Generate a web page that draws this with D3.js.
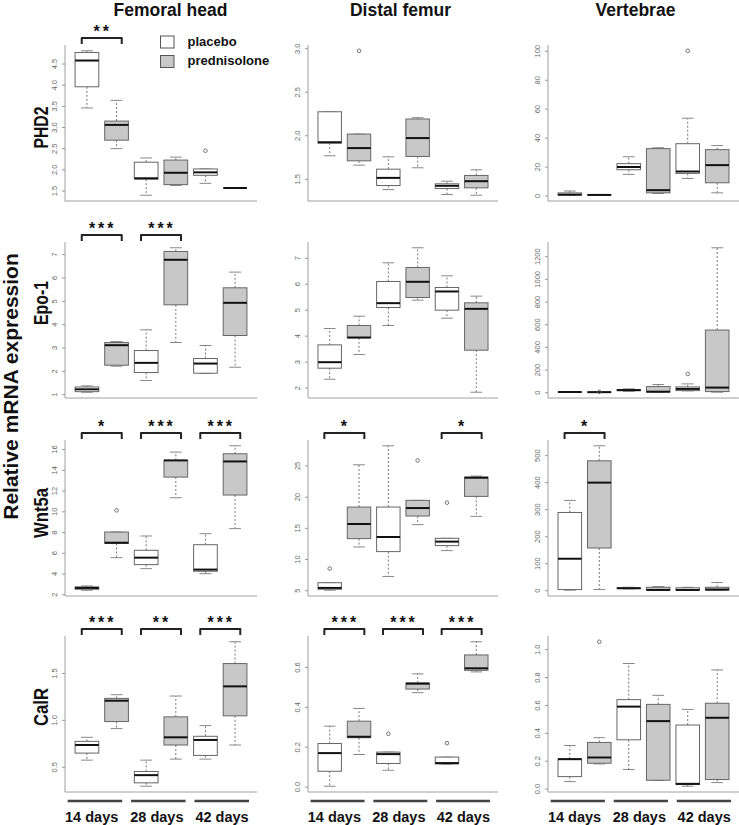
<!DOCTYPE html>
<html>
<head>
<meta charset="utf-8">
<script src="https://cdn.jsdelivr.net/npm/d3@7/dist/d3.min.js"></script>
<style>
  html, body { margin: 0; padding: 0; background: #fff; }
  svg { display: block; font-family: "Liberation Sans", Arial, sans-serif; }
</style>
</head>
<body>
<svg id="chart" width="739" height="825"></svg>
<script>
// ---------------- DATA ----------------
const tissues = ["Femoral head", "Distal femur", "Vertebrae"];
const genes = ["PHD2", "Epo-1", "Wnt5a", "CalR"];
const groups = ["14 days", "28 days", "42 days"];
const treatments = ["placebo", "prednisolone"];

// each box: [lower whisker, Q1, median, Q3, upper whisker]; order: 14d plac, 14d pred, 28d plac, 28d pred, 42d plac, 42d pred
const PHD2_FH = [[3.45,3.95,4.57,4.76,4.80],[2.49,2.69,3.05,3.14,3.63],[1.39,1.77,1.79,2.17,2.27],[1.62,1.64,1.92,2.22,2.29],[1.67,1.86,1.93,2.01,2.01],[1.56,1.56,1.56,1.56,1.56]];
const PHD2_DF = [[1.765,1.91,1.92,2.27,2.27],[1.657,1.707,1.853,2.014,2.014],[1.377,1.423,1.511,1.611,1.753],[1.627,1.757,1.968,2.187,2.202],[1.32,1.389,1.42,1.443,1.473],[1.312,1.397,1.473,1.539,1.604]];
const PHD2_V  = [[0.2,0.3,0.6,1.8,3.1],[0.2,0.3,0.4,0.5,0.6],[14.6,17.8,19.7,22,26.8],[1.4,1.85,3.7,32.4,33],[11.8,15.3,16.6,35.8,53.4],[1.85,8.8,21,31.7,34.5]];
const EPO_FH  = [[1.086,1.11,1.21,1.31,1.357],[2.2,2.243,3.1,3.214,3.257],[1.586,1.929,2.343,2.871,3.757],[3.214,4.829,6.757,7.114,7.271],[1.886,1.9,2.314,2.529,3.086],[2.157,3.514,4.914,5.557,6.229]];
const EPO_DF  = [[2.321,2.746,2.977,3.645,4.275],[3.272,3.915,3.928,4.391,4.751],[4.391,5.085,5.252,6.087,6.807],[5.368,5.47,6.075,6.627,7.386],[4.674,4.982,5.702,5.856,6.306],[1.82,3.44,5.033,5.265,5.522]];
const EPO_V   = [[0.5,1,2,3,5],[0.3,0.6,1,1.5,2],[8,14,19,24,30],[1,2,5,50,68],[11.8,14.7,29.5,47,73.7],[0.5,5.9,41.3,548.7,1274]];
const WNT_FH  = [[2.39,2.48,2.61,2.71,2.80],[5.53,6.9,6.97,8.0,8.0],[4.47,4.86,5.53,6.24,7.62],[11.31,13.30,14.91,14.91,15.71],[3.99,4.22,4.38,6.78,7.84],[8.33,11.57,14.81,15.55,16.32]];
const WNT_DF  = [[5.0,5.16,5.37,6.2,6.2],[11.93,13.27,15.61,18.33,25.1],[7.19,11.19,13.53,18.33,28.15],[15.51,16.89,18.17,19.4,19.4],[11.35,12.15,12.79,13.32,13.32],[16.84,20.04,23.03,23.13,23.29]];
const WNT_V   = [[0,2.5,116.6,287.8,332.5],[2.5,156.3,398.3,479,534.7],[5,6.2,7.4,8.7,11],[0.3,0.5,1,11,13.6],[0.2,0.5,1,9,11],[0.5,0.5,2.5,11,28.5]];
const CALR_FH = [[0.571,0.646,0.732,0.771,0.814],[0.907,0.982,1.204,1.229,1.268],[0.293,0.329,0.411,0.45,0.571],[0.582,0.732,0.814,1.032,1.254],[0.582,0.621,0.786,0.825,0.939],[0.732,1.043,1.357,1.6,1.832]];
const CALR_DF = [[0.002,0.077,0.168,0.216,0.303],[0.161,0.245,0.25,0.328,0.392],[0.082,0.116,0.163,0.173,0.173],[0.471,0.489,0.516,0.52,0.565],[0.113,0.114,0.118,0.148,0.148],[0.575,0.583,0.593,0.66,0.726]];
const CALR_V  = [[0.05,0.086,0.211,0.213,0.309],[0.177,0.182,0.223,0.331,0.365],[0.137,0.35,0.588,0.638,0.897],[0.058,0.06,0.484,0.604,0.669],[0.017,0.029,0.034,0.456,0.568],[0.043,0.065,0.508,0.612,0.851]];

// outliers: [box index, value]
const OUT_PHD2_FH = [[4,2.44]];
const OUT_PHD2_DF = [[1,2.97]];
const OUT_PHD2_V  = [[4,100]];
const OUT_EPO_V   = [[1,3],[4,162]];
const OUT_WNT_FH  = [[1,10.09]];
const OUT_WNT_DF  = [[0,8.47],[3,25.8],[4,19.03]];
const OUT_CALR_DF = [[2,0.265],[4,0.218]];
const OUT_CALR_V  = [[1,1.053]];

// y tick labels
const TICK_PHD2_FH = ["1.5","2.0","2.5","3.0","3.5","4.0","4.5"];
const TICK_PHD2_DF = ["1.5","2.0","2.5","3.0"];
const TICK_PHD2_V  = ["0","20","40","60","80","100"];
const TICK_EPO_FH  = ["1","2","3","4","5","6","7"];
const TICK_EPO_DF  = ["2","3","4","5","6","7"];
const TICK_EPO_V   = ["0","200","400","600","800","1000","1200"];
const TICK_WNT_FH  = ["2","4","6","8","10","12","14","16"];
const TICK_WNT_DF  = ["5","10","15","20","25"];
const TICK_WNT_V   = ["0","100","200","300","400","500"];
const TICK_CALR_FH = ["0.5","1.0","1.5"];
const TICK_CALR_DF = ["0.0","0.2","0.4","0.6"];
const TICK_CALR_V  = ["0.0","0.2","0.4","0.6","0.8","1.0"];

// significance: [row, column, group, label]
const SIGNIF = [
  [0,0,0,"**"],
  [1,0,0,"***"],[1,0,1,"***"],
  [2,0,0,"*"],[2,0,1,"***"],[2,0,2,"***"],[2,1,0,"*"],[2,1,2,"*"],[2,2,0,"*"],
  [3,0,0,"***"],[3,0,1,"**"],[3,0,2,"***"],[3,1,0,"***"],[3,1,1,"***"],[3,1,2,"***"]
];

const BOXES = [[PHD2_FH,PHD2_DF,PHD2_V],[EPO_FH,EPO_DF,EPO_V],[WNT_FH,WNT_DF,WNT_V],[CALR_FH,CALR_DF,CALR_V]];
const OUTS  = [[OUT_PHD2_FH,OUT_PHD2_DF,OUT_PHD2_V],[[],[],OUT_EPO_V],[OUT_WNT_FH,OUT_WNT_DF,[]],[[],OUT_CALR_DF,OUT_CALR_V]];
const TICKS = [[TICK_PHD2_FH,TICK_PHD2_DF,TICK_PHD2_V],[TICK_EPO_FH,TICK_EPO_DF,TICK_EPO_V],[TICK_WNT_FH,TICK_WNT_DF,TICK_WNT_V],[TICK_CALR_FH,TICK_CALR_DF,TICK_CALR_V]];

// ---------------- LAYOUT ----------------
const colLeft = [65, 308, 548];
const colRight = [257, 498, 739];
const rowTop = [45, 242, 440, 636];
const plotH = 156;
const titleX = [170.5, 400.5, 635.5];
const rowLabelDy = [4.5, -17, -5, -7];
const rowLabelLen = [42, 44, 50, 38];
const fillColors = ["#ffffff", "#c8c8c8"];

const svg = d3.select("#chart");

// column titles
svg.selectAll("text.title").data(tissues).enter().append("text")
  .attr("class","title")
  .attr("x", (d,i) => titleX[i]).attr("y", 16)
  .attr("text-anchor","middle").attr("font-size", 17.5).attr("font-weight","bold").attr("fill","#111")
  .text(d => d);

// big y label
svg.append("text")
  .attr("transform", "translate(18,386.5) rotate(-90)")
  .attr("text-anchor","middle").attr("font-size", 21).attr("font-weight","bold").attr("fill","#111")
  .text("Relative mRNA expression");

// row labels
genes.forEach((g, r) => {
  svg.append("text")
    .attr("transform", `translate(47.5,${rowTop[r] + plotH/2 + rowLabelDy[r]}) rotate(-90)`)
    .attr("text-anchor","middle").attr("font-size", 21).attr("font-weight","bold").attr("fill","#111")
    .attr("textLength", rowLabelLen[r]).attr("lengthAdjust","spacingAndGlyphs")
    .text(g);
});

for (let r = 0; r < 4; r++) {
  for (let c = 0; c < 3; c++) {
    const boxes = BOXES[r][c];
    const outs = OUTS[r][c];
    const tickLabels = TICKS[r][c];
    const left = colLeft[c], right = colRight[c];
    const top = rowTop[r], bottom = top + plotH;

    const x = d3.scaleLinear().domain([0.26, 6.74]).range([left, right]);
    const allVals = boxes.flat().concat(outs.map(o => o[1]));
    const [mn, mx] = d3.extent(allVals);
    const pad = (mx - mn) * 0.04;
    const y = d3.scaleLinear().domain([mn - pad, mx + pad]).range([bottom, top]);

    const g = svg.append("g");

    // L-shaped frame
    g.append("path")
      .attr("d", `M${left},${top}V${bottom}H${right}`)
      .attr("fill","none").attr("stroke","#a0a0a0").attr("stroke-width",1);

    // y axis ticks + rotated labels
    const tickVals = tickLabels.map(Number);
    const axis = d3.axisLeft(y).tickValues(tickVals).tickSize(3).tickFormat((d,i) => tickLabels[i]);
    const ag = g.append("g").attr("transform", `translate(${left},0)`).call(axis);
    ag.select(".domain").remove();
    ag.selectAll(".tick line").attr("stroke","#999");
    ag.selectAll(".tick text")
      .attr("x", null).attr("dy", null)
      .attr("transform", "translate(-8.5,0) rotate(-90)")
      .attr("text-anchor","middle")
      .attr("font-size", 7.5).attr("fill","#666")
      .attr("font-family", "'Liberation Sans', Arial, sans-serif");

    const bw = x(1.4) - x(1);   // half of box width (0.8 units)
    const cw = bw / 2;          // half cap width

    boxes.forEach((b, i) => {
      const cx = x(i + 1);
      const [lo, q1, med, q3, hi] = b;
      // whiskers
      g.append("line").attr("x1",cx).attr("x2",cx).attr("y1",y(q3)).attr("y2",y(hi))
        .attr("stroke","#777").attr("stroke-dasharray","2,2");
      g.append("line").attr("x1",cx).attr("x2",cx).attr("y1",y(q1)).attr("y2",y(lo))
        .attr("stroke","#777").attr("stroke-dasharray","2,2");
      // caps
      [lo, hi].forEach(v => g.append("line").attr("x1",cx-cw).attr("x2",cx+cw).attr("y1",y(v)).attr("y2",y(v))
        .attr("stroke","#888"));
      // box
      g.append("rect").attr("x",cx-bw).attr("width",2*bw)
        .attr("y",y(q3)).attr("height",Math.max(0,y(q1)-y(q3)))
        .attr("fill",fillColors[i%2]).attr("stroke","#666").attr("stroke-width",1);
      // median
      g.append("line").attr("x1",cx-bw).attr("x2",cx+bw).attr("y1",y(med)).attr("y2",y(med))
        .attr("stroke","#111").attr("stroke-width",2);
    });

    outs.forEach(o => {
      g.append("circle").attr("cx", x(o[0]+1)).attr("cy", y(o[1])).attr("r", 1.8)
        .attr("fill","none").attr("stroke","#666").attr("stroke-width",0.9);
    });

    // significance brackets
    SIGNIF.filter(s => s[0] === r && s[1] === c).forEach(s => {
      const cxp = (x(2*s[2]+1) + x(2*s[2]+2)) / 2;
      const by = top - 7;
      g.append("path")
        .attr("d", `M${cxp-20},${by+6}V${by}H${cxp+20}V${by+6}`)
        .attr("fill","none").attr("stroke","#222").attr("stroke-width",2).attr("stroke-linejoin","round");
      g.append("text").attr("x", cxp + 1).attr("y", by - 1.5)
        .attr("text-anchor","middle").attr("font-size",16).attr("font-weight","bold")
        .attr("letter-spacing", 3).attr("fill","#111")
        .text(s[3]);
    });

    // bottom group bars + labels
    if (r === 3) {
      groups.forEach((gl, k) => {
        const bc = 1.27 + 2.14*k;
        g.append("line").attr("x1", x(bc-0.92)).attr("x2", x(bc+0.92)).attr("y1", 801).attr("y2", 801)
          .attr("stroke","#444").attr("stroke-width",2.5);
        g.append("text").attr("x", x(1.16 + 2.2*k)).attr("y", 822)
          .attr("text-anchor","middle").attr("font-size",14.5).attr("font-weight","bold").attr("fill","#111")
          .text(gl);
      });
    }
  }
}

// legend
const leg = svg.append("g");
treatments.forEach((t, i) => {
  leg.append("rect").attr("x",160.5).attr("y",36 + i*19.5).attr("width",13.5).attr("height",12)
    .attr("fill",fillColors[i]).attr("stroke","#555").attr("stroke-width",1);
  leg.append("text").attr("x",187.5).attr("y",45.5 + i*19.5)
    .attr("font-size",13).attr("font-weight","bold").attr("fill","#111").text(t);
});
</script>
</body>
</html>
